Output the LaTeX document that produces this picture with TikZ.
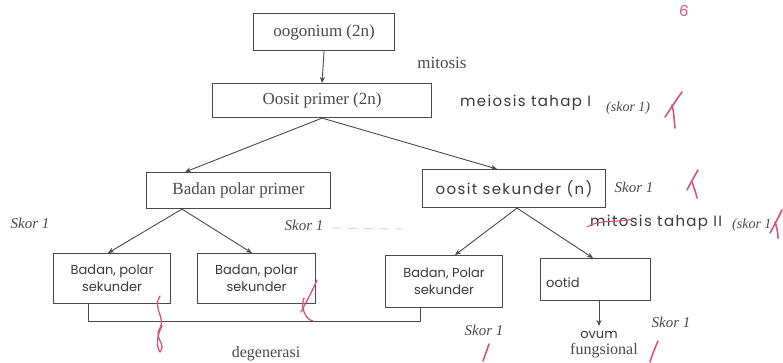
\documentclass[tikz,border=0pt]{standalone}
\usepackage{fontspec}
\setmainfont{Liberation Serif}
\newfontfamily\hand{Poppins}
\newfontfamily\handwide[LetterSpace=9]{Poppins}
\usetikzlibrary{calc,arrows.meta}
\definecolor{ink}{HTML}{4A4A4A}
\definecolor{pen}{HTML}{3A3A3A}
\definecolor{marker}{HTML}{D9517E}
\tikzset{
  box/.style={draw=ink, line width=1.1pt, inner sep=0pt, anchor=north west},
  arr/.style={draw=ink, line width=0.9pt, -{Stealth[length=6pt,width=5pt]}},
  link/.style={draw=ink, line width=1pt},
  print/.style={text=ink, font=\fontsize{17}{19}\selectfont, inner sep=0pt},
  score/.style={text=ink, font=\fontsize{15}{17}\selectfont\itshape, inner sep=0pt},
  smallscore/.style={text=ink, font=\fontsize{14}{16}\selectfont\itshape, inner sep=0pt},
  handtxt/.style={text=pen, font=\hand\fontsize{13}{17}\selectfont, inner sep=0pt},
  handlabel/.style={text=pen, font=\handwide\fontsize{15}{17}\selectfont, inner sep=0pt},
  check/.style={draw=marker, line width=1.6pt, line cap=round, line join=round},
}
\begin{document}
\begin{tikzpicture}[x=1pt, y=-1pt]
\useasboundingbox[fill=white] (0,0) rectangle (783,363);

% boxes of the oogenesis chart
\node[box, minimum width=141pt, minimum height=37pt] (oog) at (253,13) {};
\node[print] at (oog.center) {oogonium (2n)};
\node[box, minimum width=219pt, minimum height=34pt] (op) at (212,83) {};
\node[print] at (op.center) {Oosit primer (2n)};
\node[box, minimum width=184pt, minimum height=36pt] (bpp) at (146,172) {};
\node[print] at (bpp.center) {Badan polar primer};
\node[box, minimum width=183pt, minimum height=38pt] (os) at (422,169) {};
\node[handlabel] at (os.center) {oosit sekunder (n)};
\node[box, minimum width=117pt, minimum height=50pt] (b1) at (53,253) {};
\node[handtxt, align=center] at (b1.center) {Badan, polar\\sekunder};
\node[box, minimum width=118pt, minimum height=50pt] (b2) at (197,253) {};
\node[handtxt, align=center] at (b2.center) {Badan, polar\\sekunder};
\node[box, minimum width=117pt, minimum height=52pt] (b3) at (385,255) {};
\node[handtxt, align=center] at (b3.center) {Badan, Polar\\sekunder};
\node[box, minimum width=110pt, minimum height=42pt] (b4) at (540,258) {};
\node[handtxt, anchor=west] at ($(b4.west)+(6,3)$) {ootid};

% process labels
\node[print] (mit) at (442,63) {mitosis};
\node[handlabel, anchor=west] (mei) at (460,103) {meiosis tahap I};
\node[smallscore, anchor=west] (sk1) at (606,108) {(skor 1)};
\node[score] (sk2) at (634,187) {Skor 1};
\node[handlabel, anchor=west] (mit2) at (590,223) {mitosis tahap II};
\node[smallscore, anchor=west] (sk3) at (732,225) {(skor 1};
\node[score] (sk4) at (30,223) {Skor 1};
\node[score] (sk5) at (304,225) {Skor 1};
\node[score] (sk6) at (484,330) {Skor 1};
\node[score] (sk7) at (671,322) {Skor 1};
\node[handtxt] (ov) at (599,335) {ovum};
\node[print, font=\fontsize{16}{18}\selectfont] (fung) at (604,351) {fungsional};
\node[print, font=\fontsize{16}{18}\selectfont] (deg) at (266,354) {degenerasi};

% arrows
\draw[arr] (oog.south) -- (op.north);
\draw[arr] (op.south) -- ($(bpp.north west)+(39,0)$);
\draw[arr] (op.south) -- ($(os.north west)+(75,0)$);
\draw[arr] ($(bpp.south west)+(36,0)$) -- ($(b1.north west)+(55,0)$);
\draw[arr] ($(bpp.south west)+(36,0)$) -- ($(b2.north west)+(55,0)$);
\draw[arr] ($(os.south west)+(95,0)$) -- ($(b3.north west)+(70,0)$);
\draw[arr] ($(os.south west)+(95,0)$) -- ($(b4.north west)+(53,0)$);
\coordinate (ovtop) at (599,326);
\draw[arr] ($(b4.south west)+(59,0)$) -- (ovtop);

% bracket joining the three polar bodies
\coordinate (brk) at (250,321);
\coordinate (leftfoot) at ($(b1.south west)+(35,0)$);
\coordinate (rightfoot) at ($(b3.south west)+(35,0)$);
\draw[link] (leftfoot) -- (leftfoot |- brk) -- (rightfoot |- brk) -- (rightfoot);

% faint pencil trace
\draw[gray!30, line width=1pt, dash pattern=on 9pt off 7pt] (332,228) -- (402,229);

% red grading marks
\node[text=marker, font=\hand\fontsize{15}{17}\selectfont, rotate=-10] at (684,11) {6};
\draw[check] (682,92) .. controls (676,100) and (670,110) .. (665,117);
\draw[check] (672,105) .. controls (674,112) and (674,120) .. (675,128);
\draw[check] (698,170) .. controls (694,177) and (690,184) .. (687,190);
\draw[check] (692,182) .. controls (694,188) and (696,193) .. (697,198);
\draw[check] (782,210) .. controls (778,218) and (774,226) .. (770,233);
\draw[check] (775,222) .. controls (777,228) and (778,233) .. (778,238);
\draw[marker, line width=1.1pt, line cap=round] (587,227) .. controls (600,219) and (615,223) .. (633,219);
\draw[check, line width=1.3pt] (160,296) .. controls (152,308) and (166,318) .. (160,328)
  .. controls (153,338) and (167,344) .. (160,352) .. controls (155,345) and (158,333) .. (162,326);
\draw[check, line width=1.3pt] (317,280) .. controls (312,292) and (306,302) .. (301,312);
\draw[check, line width=1.3pt] (304,298) .. controls (300,308) and (306,320) .. (313,321);
\draw[check] (489,344) .. controls (487,350) and (485,355) .. (483,361);
\draw[check] (658,341) .. controls (655,348) and (652,355) .. (650,362);
\end{tikzpicture}
\end{document}
